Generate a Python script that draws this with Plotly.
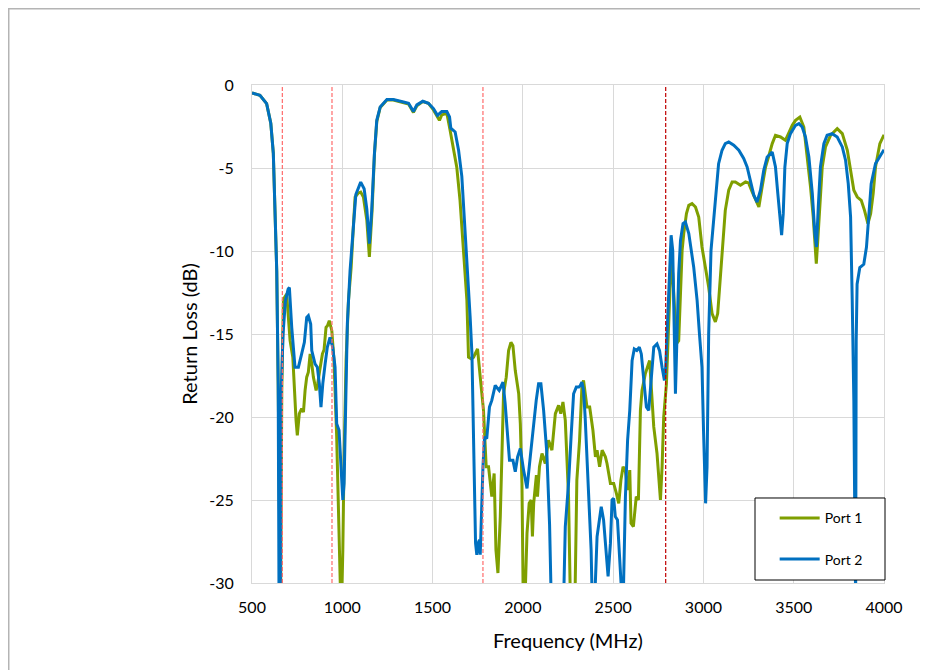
import plotly.graph_objects as go

# ---------------- data ----------------
port1_freq = [500, 544, 581, 604, 618, 627, 637, 645, 652, 658, 665, 674, 692, 711, 726, 735, 744, 751, 762, 775,
              785, 794, 803, 812, 822, 831, 840, 855, 864, 875, 890, 899, 910, 918, 928, 942, 954, 969, 984, 991,
              997, 1003, 1010, 1021, 1034, 1049, 1062, 1071, 1090, 1102, 1117, 1136, 1150, 1165, 1178, 1191, 1210,
              1247, 1283, 1339, 1367, 1394, 1413, 1446, 1477, 1505, 1527, 1538, 1551, 1579, 1597, 1616, 1634, 1652,
              1671, 1690, 1699, 1715, 1727, 1749, 1764, 1782, 1797, 1810, 1828, 1841, 1851, 1862, 1875, 1884, 1893,
              1908, 1921, 1934, 1945, 1958, 1977, 1986, 1995, 2002, 2012, 2023, 2035, 2046, 2053, 2060, 2069, 2075,
              2081, 2092, 2106, 2124, 2142, 2161, 2180, 2198, 2210, 2222, 2235, 2253, 2263, 2285, 2290, 2299, 2314,
              2327, 2336, 2355, 2370, 2388, 2402, 2411, 2425, 2439, 2457, 2466, 2485, 2503, 2518, 2531, 2543, 2555,
              2567, 2580, 2592, 2599, 2612, 2628, 2640, 2651, 2660, 2678, 2702, 2725, 2743, 2762, 2771, 2780, 2795,
              2808, 2821, 2830, 2839, 2850, 2863, 2873, 2882, 2891, 2906, 2919, 2937, 2956, 2974, 2992, 3011, 3029,
              3048, 3066, 3079, 3090, 3103, 3121, 3140, 3159, 3177, 3205, 3233, 3250, 3270, 3288, 3307, 3325, 3344,
              3363, 3381, 3399, 3427, 3454, 3473, 3492, 3510, 3534, 3556, 3574, 3593, 3608, 3617, 3625, 3633, 3645,
              3658, 3676, 3704, 3741, 3769, 3797, 3815, 3833, 3852, 3874, 3892, 3911, 3926, 3940, 3953, 3977, 4000]
port1_db = [-0.48, -0.62, -1.12, -2.3, -4.1, -7.1, -11.2, -18, -32, -32, -18.4, -12.9, -12.6, -15.4, -16.4, -18.6,
            -20.2, -21.1, -19.8, -19.5, -19.7, -18.4, -17.6, -17.3, -16.2, -16.8, -17.6, -18.4, -18.0, -17.2, -16.2,
            -15.95, -14.6, -14.5, -14.2, -14.8, -16.6, -21.2, -28, -31, -31, -28, -22.4, -16.6, -13, -11, -8.4,
            -6.75, -6.5, -6.45, -6.75, -8.15, -10.36, -7.55, -4.2, -2.2, -1.35, -0.9, -0.9, -1.05, -1.15, -1.65,
            -1.25, -1.0, -1.1, -1.5, -1.95, -2.13, -1.8, -1.7, -2.73, -3.93, -4.95, -6.95, -9.95, -12.96, -16.4,
            -16.5, -16.4, -15.9, -17.6, -19.6, -23.0, -23.0, -24.8, -23.4, -28, -29.4, -26, -22, -18.6, -17.6,
            -16.0, -15.5, -15.7, -17.2, -18.6, -20.4, -24, -31, -31, -27, -25.2, -25.0, -27.2, -25.2, -23.8, -23.5,
            -24.8, -23, -22.2, -22.8, -21.4, -22, -19.8, -19.3, -19.8, -19.1, -20.2, -24.8, -31, -31, -30, -23.8,
            -21.4, -18.2, -17.8, -19.4, -19.4, -20.8, -22.4, -22, -23, -22, -22.4, -22.8, -24, -24, -24.6, -25.2,
            -23.8, -23, -23.2, -24.4, -23.2, -26.4, -26.6, -24.8, -25, -19.6, -18.4, -17.4, -16.6, -20.6, -22.2,
            -25, -23, -20, -18, -14.6, -10.56, -11.36, -13.37, -15.6, -15.4, -12.2, -9.96, -8.95, -7.75, -7.25,
            -7.15, -7.35, -7.95, -9.76, -10.96, -12.17, -13.77, -14.27, -13.77, -12.17, -9.96, -7.55, -6.34, -5.84,
            -5.84, -6.04, -5.84, -5.9, -6.44, -6.94, -7.35, -6.14, -4.94, -4.23, -3.53, -3.03, -3.13, -3.33, -2.83,
            -2.43, -2.13, -1.93, -2.53, -4.13, -6.14, -7.95, -9.36, -10.76, -9.4, -6.94, -4.94, -3.73, -3.03, -2.63,
            -2.93, -3.93, -5.14, -6.34, -6.75, -6.95, -7.55, -8.35, -7.75, -6.54, -4.94, -3.53, -3.0]

port2_freq = [500, 544, 581, 604, 618, 627, 637, 645, 650, 657, 660, 672, 685, 700, 707, 720, 729, 738, 757, 766,
              775, 790, 803, 812, 825, 831, 849, 862, 873, 882, 892, 905, 917, 932, 947, 960, 969, 982, 988, 1003,
              1010, 1021, 1028, 1043, 1062, 1075, 1102, 1121, 1136, 1150, 1163, 1178, 1191, 1210, 1247, 1283, 1339,
              1367, 1394, 1413, 1446, 1477, 1505, 1527, 1551, 1579, 1594, 1601, 1625, 1644, 1662, 1681, 1699, 1708,
              1718, 1727, 1738, 1745, 1752, 1760, 1764, 1779, 1788, 1800, 1815, 1828, 1847, 1869, 1890, 1902, 1915,
              1926, 1945, 1958, 1971, 1986, 2004, 2023, 2041, 2060, 2074, 2087, 2100, 2115, 2133, 2148, 2157, 2226,
              2235, 2253, 2259, 2267, 2281, 2296, 2310, 2318, 2327, 2336, 2345, 2355, 2370, 2378, 2384, 2398, 2411,
              2425, 2434, 2447, 2461, 2472, 2485, 2494, 2503, 2512, 2524, 2536, 2549, 2556, 2568, 2580, 2592, 2605,
              2617, 2631, 2645, 2656, 2669, 2684, 2697, 2710, 2725, 2743, 2757, 2771, 2784, 2791, 2799, 2814, 2821,
              2830, 2839, 2845, 2854, 2863, 2873, 2887, 2900, 2919, 2946, 2965, 2978, 2992, 3001, 3012, 3020, 3029,
              3042, 3057, 3071, 3084, 3103, 3121, 3140, 3168, 3196, 3223, 3242, 3260, 3279, 3297, 3316, 3334, 3353,
              3381, 3399, 3412, 3423, 3433, 3442, 3451, 3464, 3482, 3510, 3529, 3547, 3565, 3584, 3603, 3617, 3626,
              3636, 3648, 3667, 3685, 3713, 3741, 3769, 3787, 3802, 3815, 3824, 3833, 3839, 3841, 3843, 3846, 3851,
              3866, 3888, 3903, 3916, 3929, 3953, 3981, 4000]
port2_db = [-0.48, -0.62, -1.12, -2.3, -4.1, -7.1, -11.2, -18, -32, -32, -19, -15, -13, -12.3, -12.2, -14.6, -16.0,
            -17.0, -17.0, -16.5, -16.2, -15.5, -14.0, -13.9, -14.4, -16.0, -16.8, -17.0, -18.0, -19.4, -18.0, -16.8,
            -15.8, -15.2, -15.8, -17.0, -20.4, -20.8, -22.0, -25.0, -24, -19.0, -14.4, -11.2, -8.2, -6.6, -5.85,
            -6.25, -7.5, -9.55, -7.55, -4.13, -2.13, -1.32, -0.88, -0.88, -1.02, -1.1, -1.6, -1.2, -0.98, -1.1,
            -1.42, -1.83, -1.6, -1.6, -1.93, -2.6, -2.83, -3.93, -5.5, -8.95, -11.96, -13.97, -16.2, -22.0, -27.6,
            -28.3, -27.6, -27.4, -28.3, -23.0, -21.2, -21.3, -19.4, -19.0, -18.1, -18.4, -17.9, -19.2, -21.2, -22.6,
            -22.6, -23.3, -22.4, -21.9, -23.2, -24.3, -22.4, -20.2, -19.0, -18.0, -18.0, -19.6, -22.2, -26.5, -31,
            -31, -26.6, -24, -22.4, -21.2, -18.6, -18.2, -18.2, -18.1, -17.9, -18.4, -20, -22.2, -25.4, -28, -31,
            -31, -27.2, -26, -25.4, -26.2, -28.4, -29.6, -27.6, -25, -24.9, -26, -26.2, -28.8, -31, -31, -24.8,
            -21.4, -19.6, -16.6, -15.9, -16.0, -15.8, -16.2, -17.8, -19.4, -19.6, -17.8, -15.8, -15.6, -16.0, -17.0,
            -17.8, -17, -15, -10.6, -9.05, -9.96, -15, -18.6, -15, -11.36, -9.36, -8.35, -8.25, -8.95, -10.96,
            -12.97, -15, -17, -21, -25.2, -23, -15, -9.96, -7.95, -5.94, -4.74, -3.93, -3.53, -3.43, -3.63, -3.93,
            -4.43, -4.94, -5.74, -6.64, -7.05, -6.34, -5.14, -4.34, -4.04, -4.94, -6.54, -8.15, -9.05, -7.75, -4.94,
            -3.53, -2.93, -2.43, -2.33, -2.53, -3.13, -4.34, -6.54, -8.95, -9.76, -7.35, -4.94, -3.53, -3.03, -2.93,
            -3.13, -3.73, -4.53, -5.94, -7.95, -12.97, -19, -27, -31, -31, -15.4, -12, -11, -10.8, -9.76, -7.95,
            -5.94, -4.74, -4.23, -3.9]

marker_freqs = [668, 943, 1779, 2791]
marker_colors = ["#ff6b6b", "#ff6b6b", "#ff6b6b", "#c00000"]

x_tick_vals = [500, 1000, 1500, 2000, 2500, 3000, 3500, 4000]
x_tick_text = ["500", "1000", "1500", "2000", "2500", "3000", "3500", "4000"]
y_tick_vals = [-30, -25, -20, -15, -10, -5, 0]
y_tick_text = ["-30", "-25", "-20", "-15", "-10", "-5", "0"]

series_names = ["Port 1", "Port 2"]
series_colors = ["#7f9f00", "#0070c0"]

# ---------------- figure ----------------
FONT = "Lato"
fig = go.Figure()
for name, xs, ys, col in zip(series_names, [port1_freq, port2_freq], [port1_db, port2_db], series_colors):
    fig.add_trace(go.Scatter(x=xs, y=ys, mode="lines", name=name, legendgroup=name,
                             line=dict(color=col, width=3)))

shapes = []
# outer chart border
shapes.append(dict(type="rect", xref="paper", yref="paper", x0=-0.3849, x1=1.2, y0=-0.4, y1=1.1531,
                   line=dict(color="#b4b4b4", width=1.5), fillcolor="rgba(0,0,0,0)", layer="below"))
for f, c in zip(marker_freqs, marker_colors):
    shapes.append(dict(type="line", xref="x", yref="y", x0=f, x1=f, y0=-30, y1=0,
                       line=dict(color=c, width=1.2, dash="4px,2px"), layer="above"))
# legend box
shapes.append(dict(type="rect", xref="paper", yref="paper", x0=0.7959, x1=1.0016, y0=0.006, y1=0.1707,
                   line=dict(color="#000000", width=1), fillcolor="#ffffff", layer="above"))

fig.update_layout(
    width=928, height=670,
    margin=dict(l=244, r=52, t=77, b=95, autoexpand=False),
    paper_bgcolor="white", plot_bgcolor="white",
    font=dict(family=FONT, color="#000000"),
    shapes=shapes,
    showlegend=True,
    legend=dict(x=0.827, y=0.162, xanchor="left", yanchor="top", bgcolor="rgba(0,0,0,0)",
                font=dict(family=FONT, size=14, color="#000000"), tracegroupgap=20,
                traceorder="grouped", itemwidth=40),
    annotations=[
        dict(text="Frequency (MHz)", xref="paper", yref="paper", x=0.5, y=-0.1145,
             xanchor="center", yanchor="middle", showarrow=False, font=dict(family=FONT, size=20)),
        dict(text="Return Loss (dB)", xref="paper", yref="paper", x=-0.1, y=0.5,
             xanchor="center", yanchor="middle", textangle=-90, showarrow=False, font=dict(family=FONT, size=20)),
    ],
)
fig.update_xaxes(range=[500, 4000], tickvals=x_tick_vals, ticktext=x_tick_text, showgrid=True,
                 gridcolor="#d9d9d9", gridwidth=1, showline=True, linecolor="#d9d9d9", mirror=True,
                 zeroline=False, ticks="", tickfont=dict(family=FONT, size=16), ticklabelstandoff=10)
fig.update_yaxes(range=[-30, 0], tickvals=y_tick_vals, ticktext=y_tick_text, showgrid=True,
                 gridcolor="#d9d9d9", gridwidth=1, showline=True, linecolor="#d9d9d9", mirror=True,
                 zeroline=False, ticks="", tickfont=dict(family=FONT, size=16), ticklabelstandoff=14)

fig.write_html("out.html")
